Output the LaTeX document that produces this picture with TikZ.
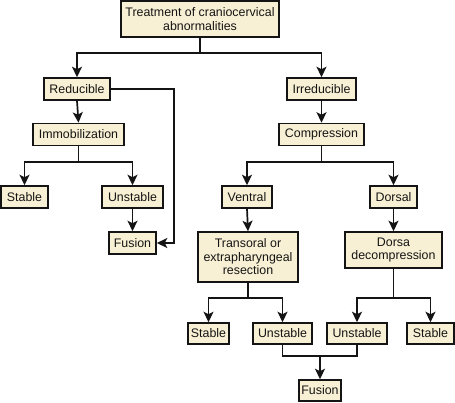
\documentclass[tikz,border=0pt]{standalone}
\usepackage{fontspec}
\setmainfont{Liberation Sans}
\usetikzlibrary{arrows.meta,calc}
\definecolor{cream}{RGB}{248,240,212}
\definecolor{ink}{RGB}{20,20,20}
\tikzset{
  box/.style={draw=ink, fill=cream, line width=1.6pt, inner sep=0pt, align=center,
    font=\fontsize{12.4}{13.5}\selectfont, text=ink},
  conn/.style={draw=ink, line width=1.7pt},
  arr/.style={conn, -{Stealth[length=10.5pt,width=10pt,inset=2.5pt]}}
}
\begin{document}
\begin{tikzpicture}[x=1pt,y=-1pt]
\useasboundingbox (0,0) rectangle (455,402);
% nodes
\node[box, minimum width=158pt, minimum height=36pt] (top) at (200,19) {Treatment of craniocervical\\abnormalities};
\node[box, minimum width=66pt, minimum height=22pt] (red) at (77,89) {Reducible};
\node[box, minimum width=69pt, minimum height=22pt] (irr) at (321.5,89) {Irreducible};
\node[box, minimum width=91pt, minimum height=22pt] (imm) at (78.5,134.5) {Immobilization};
\node[box, minimum width=85pt, minimum height=22pt] (comp) at (321.5,134.5) {Compression};
\node[box, minimum width=47pt, minimum height=22pt] (st1) at (24.5,197) {Stable};
\node[box, minimum width=61pt, minimum height=22pt] (un1) at (132.5,197) {Unstable};
\node[box, minimum width=47pt, minimum height=22pt] (fu1) at (132.5,243) {Fusion};
\node[box, minimum width=50pt, minimum height=22pt] (ven) at (247,197) {Ventral};
\node[box, minimum width=47pt, minimum height=22pt] (dor) at (393.5,197) {Dorsal};
\node[box, minimum width=100pt, minimum height=50pt] (tra) at (248,257) {Transoral or\\extrapharyngeal\\resection};
\node[box, minimum width=97pt, minimum height=36pt] (dde) at (393.5,250) {Dorsa\\decompression};
\node[box, minimum width=41pt, minimum height=21pt] (st2) at (208.5,333.5) {Stable};
\node[box, minimum width=59pt, minimum height=21pt] (un2) at (282.5,333.5) {Unstable};
\node[box, minimum width=60pt, minimum height=21pt] (un3) at (357,333.5) {Unstable};
\node[box, minimum width=47pt, minimum height=21pt] (st3) at (430.5,333.5) {Stable};
\node[box, minimum width=42pt, minimum height=21pt] (fu2) at (320,390.5) {Fusion};
% junctions
\coordinate (j1) at (200,53);
\coordinate (j2) at (78.5,162);
\coordinate (j3) at (321.5,162);
\coordinate (j4) at (248,298);
\coordinate (j5) at (393.5,298);
\coordinate (jm) at (320,356);
\coordinate (rx) at (174,0);
% connectors
\draw[conn] (top.south) -- (j1);
\draw[arr] (j1) -| (red.north);
\draw[arr] (j1) -| (irr.north);
\draw[arr] (red.south) -- (imm.north);
\draw[arr] (irr.south) -- (comp.north);
\draw[conn] (imm.south) -- (j2);
\draw[arr] (j2) -| (st1.north);
\draw[arr] (j2) -| (un1.north);
\draw[arr] (un1.south) -- (fu1.north);
\draw[arr] (red.east) -- (red.east -| rx) |- (fu1.east);
\draw[conn] (comp.south) -- (j3);
\draw[arr] (j3) -| (ven.north);
\draw[arr] (j3) -| (dor.north);
\draw[arr] (ven.south) -- (tra.north);
\draw[arr] (dor.south) -- (dde.north);
\draw[conn] (tra.south) -- (j4);
\draw[arr] (j4) -| (st2.north);
\draw[arr] (j4) -| (un2.north);
\draw[conn] (dde.south) -- (j5);
\draw[arr] (j5) -| (un3.north);
\draw[arr] (j5) -| (st3.north);
\draw[conn] (un2.south) |- (jm) -| (un3.south);
\draw[arr] (jm) -- (fu2.north);
\end{tikzpicture}
\end{document}
